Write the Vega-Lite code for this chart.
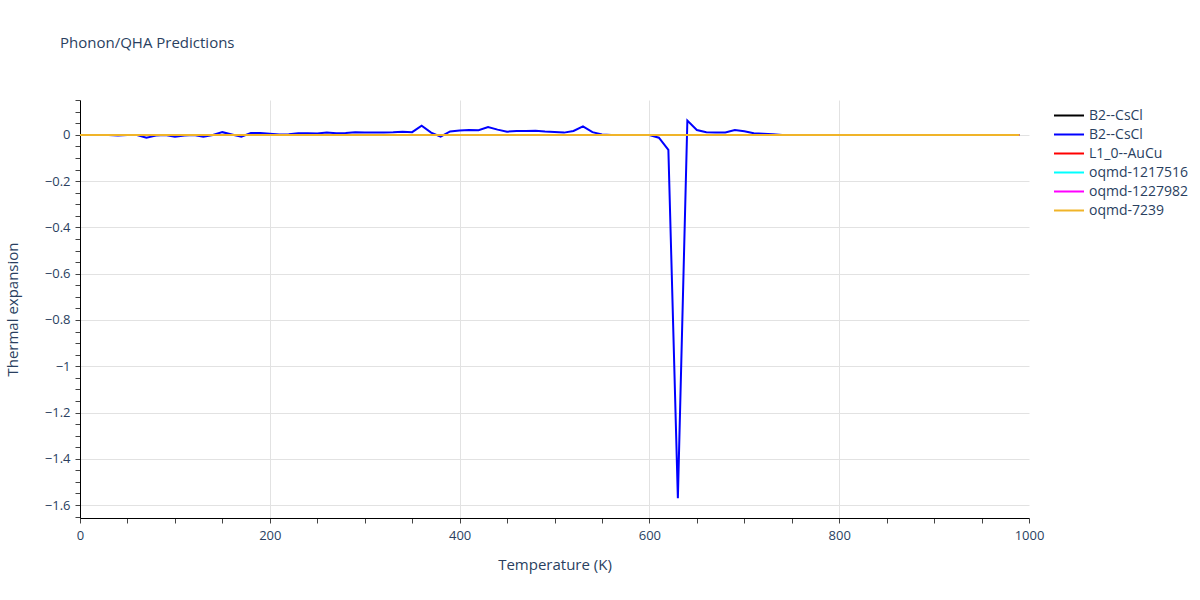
{
  "$schema": "https://vega.github.io/schema/vega-lite/v6.json",
  "width": 949,
  "height": 418,
  "autosize": {"type": "none"},
  "padding": {"left": 80, "top": 100, "right": 171, "bottom": 82},
  "background": "white",
  "config": {
    "font": "Open Sans",
    "view": {"stroke": null},
    "axis": {"labelColor": "#2a3f5f", "titleColor": "#2a3f5f", "labelFontSize": 13, "titleFontSize": 15, "titleFontWeight": "normal", "domainColor": "#000000", "domainWidth": 1, "tickColor": "#444444", "tickSize": 5, "gridColor": "#e2e2e2", "gridWidth": 1}
  },
  "title": {"text": "Phonon/QHA Predictions", "anchor": "start", "frame": "group", "dx": -20, "offset": 49, "fontSize": 15, "fontWeight": "normal", "color": "#2a3f5f", "font": "Open Sans"},
  "data": {"values": [
    {"T":0,"B2--CsCl|1":0,"B2--CsCl|2":0,"L1_0--AuCu":0,"oqmd-1217516":0,"oqmd-1227982":0,"oqmd-7239":0},
    {"T":10,"B2--CsCl|1":0,"B2--CsCl|2":0,"L1_0--AuCu":0,"oqmd-1217516":0,"oqmd-1227982":0,"oqmd-7239":0},
    {"T":20,"B2--CsCl|1":0,"B2--CsCl|2":0,"L1_0--AuCu":0,"oqmd-1217516":0,"oqmd-1227982":0,"oqmd-7239":0},
    {"T":30,"B2--CsCl|1":0,"B2--CsCl|2":0,"L1_0--AuCu":0,"oqmd-1217516":0,"oqmd-1227982":0,"oqmd-7239":0},
    {"T":40,"B2--CsCl|1":0,"B2--CsCl|2":-0.002,"L1_0--AuCu":0,"oqmd-1217516":0,"oqmd-1227982":0,"oqmd-7239":0},
    {"T":50,"B2--CsCl|1":0,"B2--CsCl|2":0,"L1_0--AuCu":0,"oqmd-1217516":0,"oqmd-1227982":0,"oqmd-7239":0},
    {"T":60,"B2--CsCl|1":0,"B2--CsCl|2":0,"L1_0--AuCu":0,"oqmd-1217516":0,"oqmd-1227982":0,"oqmd-7239":0},
    {"T":70,"B2--CsCl|1":0,"B2--CsCl|2":-0.012,"L1_0--AuCu":0,"oqmd-1217516":0,"oqmd-1227982":0,"oqmd-7239":0},
    {"T":80,"B2--CsCl|1":0,"B2--CsCl|2":-0.003,"L1_0--AuCu":0,"oqmd-1217516":0,"oqmd-1227982":0,"oqmd-7239":0},
    {"T":90,"B2--CsCl|1":0,"B2--CsCl|2":0,"L1_0--AuCu":0,"oqmd-1217516":0,"oqmd-1227982":0,"oqmd-7239":0},
    {"T":100,"B2--CsCl|1":0,"B2--CsCl|2":-0.008,"L1_0--AuCu":0,"oqmd-1217516":0,"oqmd-1227982":0,"oqmd-7239":0},
    {"T":110,"B2--CsCl|1":0,"B2--CsCl|2":-0.002,"L1_0--AuCu":0,"oqmd-1217516":0,"oqmd-1227982":0,"oqmd-7239":0},
    {"T":120,"B2--CsCl|1":0,"B2--CsCl|2":0,"L1_0--AuCu":0,"oqmd-1217516":0,"oqmd-1227982":0,"oqmd-7239":0},
    {"T":130,"B2--CsCl|1":0,"B2--CsCl|2":-0.008,"L1_0--AuCu":0,"oqmd-1217516":0,"oqmd-1227982":0,"oqmd-7239":0},
    {"T":140,"B2--CsCl|1":0,"B2--CsCl|2":0,"L1_0--AuCu":0,"oqmd-1217516":0,"oqmd-1227982":0,"oqmd-7239":0},
    {"T":150,"B2--CsCl|1":0,"B2--CsCl|2":0.012,"L1_0--AuCu":0,"oqmd-1217516":0,"oqmd-1227982":0,"oqmd-7239":0},
    {"T":160,"B2--CsCl|1":0,"B2--CsCl|2":0.002,"L1_0--AuCu":0,"oqmd-1217516":0,"oqmd-1227982":0,"oqmd-7239":0},
    {"T":170,"B2--CsCl|1":0,"B2--CsCl|2":-0.008,"L1_0--AuCu":0,"oqmd-1217516":0,"oqmd-1227982":0,"oqmd-7239":0},
    {"T":180,"B2--CsCl|1":0,"B2--CsCl|2":0.008,"L1_0--AuCu":0,"oqmd-1217516":0,"oqmd-1227982":0,"oqmd-7239":0},
    {"T":190,"B2--CsCl|1":0,"B2--CsCl|2":0.008,"L1_0--AuCu":0,"oqmd-1217516":0,"oqmd-1227982":0,"oqmd-7239":0},
    {"T":200,"B2--CsCl|1":0,"B2--CsCl|2":0.005,"L1_0--AuCu":0,"oqmd-1217516":0,"oqmd-1227982":0,"oqmd-7239":0},
    {"T":210,"B2--CsCl|1":0,"B2--CsCl|2":0.002,"L1_0--AuCu":0,"oqmd-1217516":0,"oqmd-1227982":0,"oqmd-7239":0},
    {"T":220,"B2--CsCl|1":0,"B2--CsCl|2":0.003,"L1_0--AuCu":0,"oqmd-1217516":0,"oqmd-1227982":0,"oqmd-7239":0},
    {"T":230,"B2--CsCl|1":0,"B2--CsCl|2":0.007,"L1_0--AuCu":0,"oqmd-1217516":0,"oqmd-1227982":0,"oqmd-7239":0},
    {"T":240,"B2--CsCl|1":0,"B2--CsCl|2":0.007,"L1_0--AuCu":0,"oqmd-1217516":0,"oqmd-1227982":0,"oqmd-7239":0},
    {"T":250,"B2--CsCl|1":0,"B2--CsCl|2":0.006,"L1_0--AuCu":0,"oqmd-1217516":0,"oqmd-1227982":0,"oqmd-7239":0},
    {"T":260,"B2--CsCl|1":0,"B2--CsCl|2":0.01,"L1_0--AuCu":0,"oqmd-1217516":0,"oqmd-1227982":0,"oqmd-7239":0},
    {"T":270,"B2--CsCl|1":0,"B2--CsCl|2":0.007,"L1_0--AuCu":0,"oqmd-1217516":0,"oqmd-1227982":0,"oqmd-7239":0},
    {"T":280,"B2--CsCl|1":0,"B2--CsCl|2":0.008,"L1_0--AuCu":0,"oqmd-1217516":0,"oqmd-1227982":0,"oqmd-7239":0},
    {"T":290,"B2--CsCl|1":0,"B2--CsCl|2":0.012,"L1_0--AuCu":0,"oqmd-1217516":0,"oqmd-1227982":0,"oqmd-7239":0},
    {"T":300,"B2--CsCl|1":0,"B2--CsCl|2":0.01,"L1_0--AuCu":0,"oqmd-1217516":0,"oqmd-1227982":0,"oqmd-7239":0},
    {"T":310,"B2--CsCl|1":0,"B2--CsCl|2":0.01,"L1_0--AuCu":0,"oqmd-1217516":0,"oqmd-1227982":0,"oqmd-7239":0},
    {"T":320,"B2--CsCl|1":0,"B2--CsCl|2":0.011,"L1_0--AuCu":0,"oqmd-1217516":0,"oqmd-1227982":0,"oqmd-7239":0},
    {"T":330,"B2--CsCl|1":0,"B2--CsCl|2":0.012,"L1_0--AuCu":0,"oqmd-1217516":0,"oqmd-1227982":0,"oqmd-7239":0},
    {"T":340,"B2--CsCl|1":0,"B2--CsCl|2":0.014,"L1_0--AuCu":0,"oqmd-1217516":0,"oqmd-1227982":0,"oqmd-7239":0},
    {"T":350,"B2--CsCl|1":0,"B2--CsCl|2":0.012,"L1_0--AuCu":0,"oqmd-1217516":0,"oqmd-1227982":0,"oqmd-7239":0},
    {"T":360,"B2--CsCl|1":0,"B2--CsCl|2":0.04,"L1_0--AuCu":0,"oqmd-1217516":0,"oqmd-1227982":0,"oqmd-7239":0},
    {"T":370,"B2--CsCl|1":0,"B2--CsCl|2":0.01,"L1_0--AuCu":0,"oqmd-1217516":0,"oqmd-1227982":0,"oqmd-7239":0},
    {"T":380,"B2--CsCl|1":0,"B2--CsCl|2":-0.007,"L1_0--AuCu":0,"oqmd-1217516":0,"oqmd-1227982":0,"oqmd-7239":0},
    {"T":390,"B2--CsCl|1":0,"B2--CsCl|2":0.015,"L1_0--AuCu":0,"oqmd-1217516":0,"oqmd-1227982":0,"oqmd-7239":0},
    {"T":400,"B2--CsCl|1":0,"B2--CsCl|2":0.019,"L1_0--AuCu":0,"oqmd-1217516":0,"oqmd-1227982":0,"oqmd-7239":0},
    {"T":410,"B2--CsCl|1":0,"B2--CsCl|2":0.021,"L1_0--AuCu":0,"oqmd-1217516":0,"oqmd-1227982":0,"oqmd-7239":0},
    {"T":420,"B2--CsCl|1":0,"B2--CsCl|2":0.02,"L1_0--AuCu":0,"oqmd-1217516":0,"oqmd-1227982":0,"oqmd-7239":0},
    {"T":430,"B2--CsCl|1":0,"B2--CsCl|2":0.034,"L1_0--AuCu":0,"oqmd-1217516":0,"oqmd-1227982":0,"oqmd-7239":0},
    {"T":440,"B2--CsCl|1":0,"B2--CsCl|2":0.023,"L1_0--AuCu":0,"oqmd-1217516":0,"oqmd-1227982":0,"oqmd-7239":0},
    {"T":450,"B2--CsCl|1":0,"B2--CsCl|2":0.014,"L1_0--AuCu":0,"oqmd-1217516":0,"oqmd-1227982":0,"oqmd-7239":0},
    {"T":460,"B2--CsCl|1":0,"B2--CsCl|2":0.017,"L1_0--AuCu":0,"oqmd-1217516":0,"oqmd-1227982":0,"oqmd-7239":0},
    {"T":470,"B2--CsCl|1":0,"B2--CsCl|2":0.017,"L1_0--AuCu":0,"oqmd-1217516":0,"oqmd-1227982":0,"oqmd-7239":0},
    {"T":480,"B2--CsCl|1":0,"B2--CsCl|2":0.018,"L1_0--AuCu":0,"oqmd-1217516":0,"oqmd-1227982":0,"oqmd-7239":0},
    {"T":490,"B2--CsCl|1":0,"B2--CsCl|2":0.015,"L1_0--AuCu":0,"oqmd-1217516":0,"oqmd-1227982":0,"oqmd-7239":0},
    {"T":500,"B2--CsCl|1":0,"B2--CsCl|2":0.013,"L1_0--AuCu":0,"oqmd-1217516":0,"oqmd-1227982":0,"oqmd-7239":0},
    {"T":510,"B2--CsCl|1":0,"B2--CsCl|2":0.01,"L1_0--AuCu":0,"oqmd-1217516":0,"oqmd-1227982":0,"oqmd-7239":0},
    {"T":520,"B2--CsCl|1":0,"B2--CsCl|2":0.017,"L1_0--AuCu":0,"oqmd-1217516":0,"oqmd-1227982":0,"oqmd-7239":0},
    {"T":530,"B2--CsCl|1":0,"B2--CsCl|2":0.037,"L1_0--AuCu":0,"oqmd-1217516":0,"oqmd-1227982":0,"oqmd-7239":0},
    {"T":540,"B2--CsCl|1":0,"B2--CsCl|2":0.012,"L1_0--AuCu":0,"oqmd-1217516":0,"oqmd-1227982":0,"oqmd-7239":0},
    {"T":550,"B2--CsCl|1":0,"B2--CsCl|2":0.002,"L1_0--AuCu":0,"oqmd-1217516":0,"oqmd-1227982":0,"oqmd-7239":0},
    {"T":560,"B2--CsCl|1":0,"B2--CsCl|2":0,"L1_0--AuCu":0,"oqmd-1217516":0,"oqmd-1227982":0,"oqmd-7239":0},
    {"T":570,"B2--CsCl|1":0,"B2--CsCl|2":0,"L1_0--AuCu":0,"oqmd-1217516":0,"oqmd-1227982":0,"oqmd-7239":0},
    {"T":580,"B2--CsCl|1":0,"B2--CsCl|2":0,"L1_0--AuCu":0,"oqmd-1217516":0,"oqmd-1227982":0,"oqmd-7239":0},
    {"T":590,"B2--CsCl|1":0,"B2--CsCl|2":0,"L1_0--AuCu":0,"oqmd-1217516":0,"oqmd-1227982":0,"oqmd-7239":0},
    {"T":600,"B2--CsCl|1":0,"B2--CsCl|2":0,"L1_0--AuCu":0,"oqmd-1217516":0,"oqmd-1227982":0,"oqmd-7239":0},
    {"T":610,"B2--CsCl|1":0,"B2--CsCl|2":-0.012,"L1_0--AuCu":0,"oqmd-1217516":0,"oqmd-1227982":0,"oqmd-7239":0},
    {"T":620,"B2--CsCl|1":0,"B2--CsCl|2":-0.065,"L1_0--AuCu":0,"oqmd-1217516":0,"oqmd-1227982":0,"oqmd-7239":0},
    {"T":630,"B2--CsCl|1":0,"B2--CsCl|2":-1.57,"L1_0--AuCu":0,"oqmd-1217516":0,"oqmd-1227982":0,"oqmd-7239":0},
    {"T":640,"B2--CsCl|1":0,"B2--CsCl|2":0.062,"L1_0--AuCu":0,"oqmd-1217516":0,"oqmd-1227982":0,"oqmd-7239":0},
    {"T":650,"B2--CsCl|1":0,"B2--CsCl|2":0.021,"L1_0--AuCu":0,"oqmd-1217516":0,"oqmd-1227982":0,"oqmd-7239":0},
    {"T":660,"B2--CsCl|1":0,"B2--CsCl|2":0.012,"L1_0--AuCu":0,"oqmd-1217516":0,"oqmd-1227982":0,"oqmd-7239":0},
    {"T":670,"B2--CsCl|1":0,"B2--CsCl|2":0.011,"L1_0--AuCu":0,"oqmd-1217516":0,"oqmd-1227982":0,"oqmd-7239":0},
    {"T":680,"B2--CsCl|1":0,"B2--CsCl|2":0.011,"L1_0--AuCu":0,"oqmd-1217516":0,"oqmd-1227982":0,"oqmd-7239":0},
    {"T":690,"B2--CsCl|1":0,"B2--CsCl|2":0.021,"L1_0--AuCu":0,"oqmd-1217516":0,"oqmd-1227982":0,"oqmd-7239":0},
    {"T":700,"B2--CsCl|1":0,"B2--CsCl|2":0.016,"L1_0--AuCu":0,"oqmd-1217516":0,"oqmd-1227982":0,"oqmd-7239":0},
    {"T":710,"B2--CsCl|1":0,"B2--CsCl|2":0.007,"L1_0--AuCu":0,"oqmd-1217516":0,"oqmd-1227982":0,"oqmd-7239":0},
    {"T":720,"B2--CsCl|1":0,"B2--CsCl|2":0.005,"L1_0--AuCu":0,"oqmd-1217516":0,"oqmd-1227982":0,"oqmd-7239":0},
    {"T":730,"B2--CsCl|1":0,"B2--CsCl|2":0.003,"L1_0--AuCu":0,"oqmd-1217516":0,"oqmd-1227982":0,"oqmd-7239":0},
    {"T":740,"B2--CsCl|1":0,"B2--CsCl|2":0,"L1_0--AuCu":0,"oqmd-1217516":0,"oqmd-1227982":0,"oqmd-7239":0},
    {"T":750,"B2--CsCl|1":0,"B2--CsCl|2":0,"L1_0--AuCu":0,"oqmd-1217516":0,"oqmd-1227982":0,"oqmd-7239":0},
    {"T":760,"B2--CsCl|1":0,"B2--CsCl|2":0,"L1_0--AuCu":0,"oqmd-1217516":0,"oqmd-1227982":0,"oqmd-7239":0},
    {"T":770,"B2--CsCl|1":0,"B2--CsCl|2":0,"L1_0--AuCu":0,"oqmd-1217516":0,"oqmd-1227982":0,"oqmd-7239":0},
    {"T":780,"B2--CsCl|1":0,"B2--CsCl|2":0,"L1_0--AuCu":0,"oqmd-1217516":0,"oqmd-1227982":0,"oqmd-7239":0},
    {"T":790,"B2--CsCl|1":0,"B2--CsCl|2":0,"L1_0--AuCu":0,"oqmd-1217516":0,"oqmd-1227982":0,"oqmd-7239":0},
    {"T":800,"B2--CsCl|1":0,"B2--CsCl|2":0,"L1_0--AuCu":0,"oqmd-1217516":0,"oqmd-1227982":0,"oqmd-7239":0},
    {"T":810,"B2--CsCl|1":0,"B2--CsCl|2":0,"L1_0--AuCu":0,"oqmd-1217516":0,"oqmd-1227982":0,"oqmd-7239":0},
    {"T":820,"B2--CsCl|1":0,"B2--CsCl|2":0,"L1_0--AuCu":0,"oqmd-1217516":0,"oqmd-1227982":0,"oqmd-7239":0},
    {"T":830,"B2--CsCl|1":0,"B2--CsCl|2":0,"L1_0--AuCu":0,"oqmd-1217516":0,"oqmd-1227982":0,"oqmd-7239":0},
    {"T":840,"B2--CsCl|1":0,"B2--CsCl|2":0,"L1_0--AuCu":0,"oqmd-1217516":0,"oqmd-1227982":0,"oqmd-7239":0},
    {"T":850,"B2--CsCl|1":0,"B2--CsCl|2":0,"L1_0--AuCu":0,"oqmd-1217516":0,"oqmd-1227982":0,"oqmd-7239":0},
    {"T":860,"B2--CsCl|1":0,"B2--CsCl|2":0,"L1_0--AuCu":0,"oqmd-1217516":0,"oqmd-1227982":0,"oqmd-7239":0},
    {"T":870,"B2--CsCl|1":0,"B2--CsCl|2":0,"L1_0--AuCu":0,"oqmd-1217516":0,"oqmd-1227982":0,"oqmd-7239":0},
    {"T":880,"B2--CsCl|1":0,"B2--CsCl|2":0,"L1_0--AuCu":0,"oqmd-1217516":0,"oqmd-1227982":0,"oqmd-7239":0},
    {"T":890,"B2--CsCl|1":0,"B2--CsCl|2":0,"L1_0--AuCu":0,"oqmd-1217516":0,"oqmd-1227982":0,"oqmd-7239":0},
    {"T":900,"B2--CsCl|1":0,"B2--CsCl|2":0,"L1_0--AuCu":0,"oqmd-1217516":0,"oqmd-1227982":0,"oqmd-7239":0},
    {"T":910,"B2--CsCl|1":0,"B2--CsCl|2":0,"L1_0--AuCu":0,"oqmd-1217516":0,"oqmd-1227982":0,"oqmd-7239":0},
    {"T":920,"B2--CsCl|1":0,"B2--CsCl|2":0,"L1_0--AuCu":0,"oqmd-1217516":0,"oqmd-1227982":0,"oqmd-7239":0},
    {"T":930,"B2--CsCl|1":0,"B2--CsCl|2":0,"L1_0--AuCu":0,"oqmd-1217516":0,"oqmd-1227982":0,"oqmd-7239":0},
    {"T":940,"B2--CsCl|1":0,"B2--CsCl|2":0,"L1_0--AuCu":0,"oqmd-1217516":0,"oqmd-1227982":0,"oqmd-7239":0},
    {"T":950,"B2--CsCl|1":0,"B2--CsCl|2":0,"L1_0--AuCu":0,"oqmd-1217516":0,"oqmd-1227982":0,"oqmd-7239":0},
    {"T":960,"B2--CsCl|1":0,"B2--CsCl|2":0,"L1_0--AuCu":0,"oqmd-1217516":0,"oqmd-1227982":0,"oqmd-7239":0},
    {"T":970,"B2--CsCl|1":0,"B2--CsCl|2":0,"L1_0--AuCu":0,"oqmd-1217516":0,"oqmd-1227982":0,"oqmd-7239":0},
    {"T":980,"B2--CsCl|1":0,"B2--CsCl|2":0,"L1_0--AuCu":0,"oqmd-1217516":0,"oqmd-1227982":0,"oqmd-7239":0},
    {"T":990,"B2--CsCl|1":0,"B2--CsCl|2":0,"L1_0--AuCu":0,"oqmd-1217516":0,"oqmd-1227982":0,"oqmd-7239":0}
  ]},
  "transform": [
    {"fold": ["B2--CsCl|1", "B2--CsCl|2", "L1_0--AuCu", "oqmd-1217516", "oqmd-1227982", "oqmd-7239"], "as": ["series", "value"]}
  ],
  "mark": {"type": "line", "strokeWidth": 2, "clip": true},
  "encoding": {
    "x": {
      "field": "T", "type": "quantitative",
      "scale": {"domain": [0, 1000], "nice": false, "zero": false},
      "axis": {
        "title": "Temperature (K)",
        "values": [0,50,100,150,200,250,300,350,400,450,500,550,600,650,700,750,800,850,900,950,1000],
        "format": "d",
        "labelExpr": "datum.value % 200 == 0 ? datum.label : ''",
        "gridOpacity": {"condition": {"test": "datum.value % 200 == 0 && datum.value > 0 && datum.value < 1000", "value": 1}, "value": 0},
        "labelPadding": 6,
        "titlePadding": 15,
        "labelFlush": false
      }
    },
    "y": {
      "field": "value", "type": "quantitative",
      "scale": {"domain": [-1.656, 0.151], "nice": false, "zero": false},
      "axis": {
        "title": "Thermal expansion",
        "values": [0.15,0.1,0.05,0,-0.05,-0.1,-0.15,-0.2,-0.25,-0.3,-0.35,-0.4,-0.45,-0.5,-0.55,-0.6,-0.65,-0.7,-0.75,-0.8,-0.85,-0.9,-0.95,-1,-1.05,-1.1,-1.15,-1.2,-1.25,-1.3,-1.35,-1.4,-1.45,-1.5,-1.55,-1.6,-1.65],
        "format": ".2~f",
        "labelExpr": "abs(datum.value*5 - round(datum.value*5)) < 0.000001 ? datum.label : ''",
        "gridOpacity": {"condition": {"test": "abs(datum.value*5 - round(datum.value*5)) < 0.000001", "value": 1}, "value": 0},
        "labelPadding": 5,
        "titlePadding": 24
      }
    },
    "color": {
      "field": "series", "type": "nominal",
      "scale": {
        "domain": ["B2--CsCl|1", "B2--CsCl|2", "L1_0--AuCu", "oqmd-1217516", "oqmd-1227982", "oqmd-7239"],
        "range": ["#000000", "#0000ff", "#ff0000", "#00ffff", "#ff00ff", "#f0b429"]
      },
      "legend": {
        "title": null,
        "orient": "none",
        "legendX": 973,
        "legendY": 6,
        "symbolType": "stroke",
        "symbolSize": 900,
        "symbolStrokeWidth": 2,
        "clipHeight": 19,
        "rowPadding": 0,
        "labelFontSize": 14,
        "labelColor": "#2a3f5f",
        "labelOffset": 4,
        "labelExpr": "split(datum.label, '|')[0]"
      }
    }
  }
}
